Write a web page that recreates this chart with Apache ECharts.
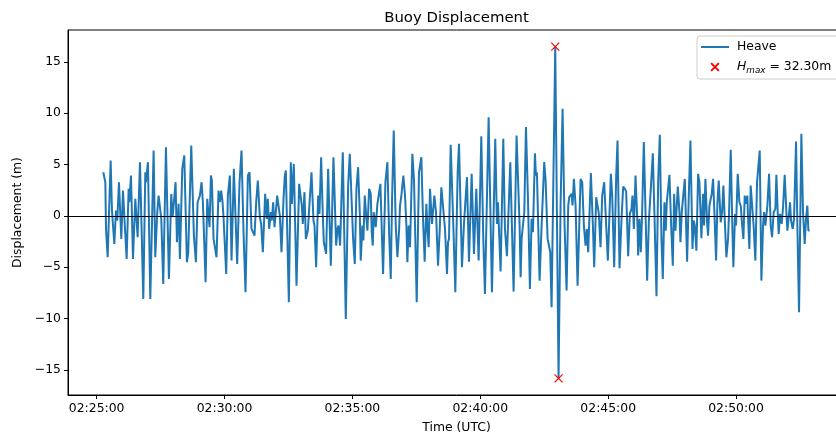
<!DOCTYPE html>
<html><head><meta charset="utf-8">
<script src="https://cdn.jsdelivr.net/npm/echarts@6/dist/echarts.min.js"></script>
<style>html,body{margin:0;padding:0;background:#fff;overflow:hidden;width:836px;height:439px}#c{width:870px;height:439px}</style>
</head><body><div id="c"></div>
<script>
// ---- data ----
const chartTitle = 'Buoy Displacement';
const xName = 'Time (UTC)';
const yName = 'Displacement (m)';
const seriesName = 'Heave';
const startClock = '02:25:00';           // time origin of timeSec
// seconds after 02:25:00
const timeSec = [
15.6,20.3,21.9,25.8,32.8,35.9,41.4,45.3,48.4,52.3,57.8,61.7,70.3,75.0,76.6,80.5,85.2,90.6,96.1,101.6,109.4,114.1,115.6,120.3,125.8,133.6,137.5,142.2,
145.3,149.2,151.6,156.2,162.5,169.5,175.0,178.1,181.2,185.1,188.3,192.2,195.3,200.8,205.5,211.7,214.8,217.2,221.9,228.1,232.8,236.7,239.8,242.2,246.1,249.2,251.6,255.5,259.4,262.5,264.8,268.0,270.3,274.2,275.8,281.2,
285.9,289.0,292.2,295.3,297.6,303.9,307.8,312.5,316.4,321.8,326.5,329.6,335.1,339.8,344.5,349.2,354.7,358.6,363.2,366.4,370.3,374.2,378.1,382.8,385.9,389.8,395.3,399.2,401.5,404.7,408.6,410.9,414.0,417.2,420.3,423.4,
426.6,429.7,433.6,438.3,441.4,443.8,446.1,450.8,455.5,457.9,460.2,462.5,468.8,475.0,478.2,481.3,483.6,487.5,490.7,493.0,495.4,498.5,504.0,508.6,511.0,514.9,519.6,522.7,526.6,530.5,532.9,535.2,538.3,543.0,549.3,555.5,561.8,564.9,
567.2,571.1,577.4,584.4,589.9,593.8,599.2,601.6,605.5,609.4,613.3,617.2,619.5,623.4,625.8,628.9,632.8,635.2,639.1,643.0,645.3,647.7,650.0,652.4,654.7,658.6,661.0,665.6,671.9,677.4,682.0,686.0,689.9,693.0,696.9,701.6,705.5,
709.4,711.7,714.8,719.5,723.4,726.6,728.9,732.0,735.1,740.6,744.5,750.8,756.2,761.7,765.6,769.5,773.4,775.8,778.9,782.0,786.7,792.2,796.1,800.8,804.7,808.6,812.5,817.2,821.9,824.2,826.6,830.5,836.7,841.4,846.9,
850.0,857.0,861.7,864.8,868.7,873.4,879.7,885.1,890.6,896.1,902.3,907.0,910.9,919.5,927.3,935.1,939.0,941.4,943.7,947.6,953.9,957.8,962.5,970.3,978.1,985.1,
992.2,994.6,996.9,1000.0,1003.2,1007.1,1011.8,1016.4,1020.3,1023.5,1028.2,1030.5,1032.8,1039.1,1043.8,1050.0,1053.2,1057.9,1061.0,1064.1,1067.2,1075.8,1083.6,1088.3,1093.0,1097.7,1102.4,1106.3,1108.6,1111.8,1114.1,1116.4,1119.6,1123.5,1128.2,
1135.2,1139.1,1143.0,1146.9,1150.0,1153.1,1159.4,1164.1,1167.2,1171.9,1175.0,1178.1,1182.0,1186.0,1190.6,1195.3,1199.2,1206.3,1209.4,1214.1,1218.8,1221.9,1226.6,1231.3,1235.2,1239.1,1242.2,1246.9,1250.8,1254.7,1257.0,1260.2,1264.1,1268.8,
1270.3,1273.4,1276.6,1279.7,1283.6,1288.3,1291.4,1295.3,1297.6,1300.0,1304.7,1308.6,1313.3,1317.2,1321.1,1325.0,1328.1,1332.0,1335.1,1337.5,1340.6,1343.7,1347.7,1351.6,1354.7,1357.8,1363.3,1367.2,1369.5,1372.6,1375.8,1379.7,1385.2,1389.1,1393.0,1397.7,1400.8,1403.1,1407.0,
1410.9,1414.0,1418.7,1422.6,1425.0,1428.1,1432.0,1434.3,1437.5,1439.8,1442.9,1446.1,1449.2,1453.1,1456.2,1459.3,1464.0,1467.2,1470.3,1474.2,1477.3,1481.2,1483.6,1487.5,1491.4,1493.7,1497.6,1500.0,1503.9,1507.8,1510.9,1514.0,1517.2,1520.3,1523.4,1526.5,1528.1,1531.2,1534.3,1537.5,1541.4,1545.3,1549.2,
1555.5,1559.4,1563.3,1565.7,1568.8,1573.5,1577.4,1581.3,1584.4,1588.3,1592.2,1594.6,1597.7,1600.0,1603.2,1607.1,1610.2,1614.1,1618.0,1620.4,1623.5,1626.6,1629.0,1632.9,1636.0,1640.7,1643.8,1647.7,1653.2,1657.1,1661.0,1664.1,1667.2,1669.6,1672.7
];
// heave displacement in metres
const heave = [
4.25,3.28,-1.27,-4.03,5.39,0.52,-2.73,0.52,-0.45,3.28,-2.24,2.47,-4.19,2.63,1.33,3.93,-4.19,1.66,-2.08,5.23,-8.08,4.25,3.28,5.23,-8.08,6.36,-4.03,0.36,
1.98,1.98,-0.29,-6.62,6.69,-6.14,2.14,-0.13,1.33,3.28,-2.56,1.17,-4.19,4.58,5.88,-4.51,-3.54,-3.70,6.85,-1.92,-4.51,1.33,1.49,1.98,3.28,1.33,1.33,-6.46,1.66,1.49,-1.10,3.93,3.44,-2.24,-2.08,-4.03,
2.47,1.33,2.47,1.33,-0.13,-5.65,1.98,3.93,-4.35,4.58,-0.94,-4.68,3.28,6.36,-1.59,-7.44,3.93,4.25,-1.27,-1.27,-1.92,1.33,3.44,-0.13,-0.78,-3.54,2.14,-0.29,1.66,-1.27,0.36,-0.45,1.33,-1.10,0.36,1.98,
2.14,0.03,-3.54,1.66,3.93,4.42,4.25,-8.41,5.23,1.17,1.17,5.06,-6.79,3.12,1.98,1.01,-0.78,2.31,-2.24,-2.40,-1.43,0.68,4.25,-0.45,-0.94,-5.00,1.98,0.19,5.71,0.03,-2.56,-2.56,-3.70,4.58,-4.84,5.71,-2.89,-1.27,
-0.94,-2.89,6.20,-10.03,2.95,6.04,0.36,-2.24,-4.68,2.63,4.74,0.36,-4.35,-0.94,-2.40,1.98,-0.29,-1.43,2.63,2.14,-1.59,-2.89,0.36,0.19,-1.10,1.17,1.82,3.12,-5.65,3.28,5.23,-1.59,-6.14,1.66,8.31,-0.94,-4.03,
-1.43,1.01,1.98,3.93,1.98,-0.94,-4.51,-0.94,-3.05,6.04,3.44,-8.41,4.25,5.71,-0.29,-4.45,1.17,-1.10,-3.05,2.63,-0.78,1.98,0.36,-4.84,-1.43,2.79,2.95,-1.27,-5.65,-2.56,-2.24,6.92,-0.94,-7.44,4.25,
7.01,-5.00,-0.78,-0.62,3.77,-4.45,4.09,-3.70,2.63,-4.35,7.76,-2.24,-7.60,9.61,-7.44,7.50,-0.78,1.33,1.17,-5.42,7.50,-1.27,-3.93,5.23,-7.37,7.82,
-0.94,-5.97,-2.24,-2.40,0.36,8.64,1.66,-7.11,-0.29,-1.59,6.10,3.93,4.25,-6.30,-0.94,5.23,3.44,-2.24,-2.40,-3.54,-8.90,16.48,-15.82,1.01,10.42,-0.94,-7.27,1.01,1.82,1.98,2.14,1.01,3.60,1.01,-6.79,
3.60,3.28,-0.94,-2.89,-1.27,-3.54,4.16,-0.94,-5.00,1.82,1.66,0.19,-3.05,1.98,3.28,-0.94,-4.35,4.09,1.98,-5.00,3.93,7.34,-5.10,-0.29,2.86,2.63,2.37,-3.93,0.19,0.68,1.98,-1.27,3.93,-0.94,
-3.86,-0.29,-3.54,0.36,7.18,-0.94,-6.30,-0.62,-0.45,2.63,6.10,0.03,-7.82,3.28,7.89,-2.24,-6.14,1.33,-1.43,1.33,1.17,3.99,-0.94,-4.84,2.14,-1.43,2.86,0.36,-2.56,0.36,0.36,3.60,-4.45,1.98,7.34,-3.21,-0.45,-0.94,-3.38,
4.09,3.28,-2.18,2.14,-0.94,3.60,-0.62,-1.92,1.01,1.17,2.14,3.60,0.36,-4.35,1.17,3.44,-0.62,0.36,2.95,-1.10,-4.03,-2.24,0.36,6.43,-1.27,-5.00,0.19,-0.94,4.09,1.33,1.01,-0.78,-2.24,1.98,1.17,1.98,-0.13,-3.21,2.95,2.95,-1.10,-4.35,3.28,
6.36,-6.30,-0.94,0.36,-0.94,1.01,4.09,-0.94,-2.08,0.36,0.68,3.99,0.36,-1.75,0.19,-0.78,0.84,3.99,0.36,-1.43,-0.13,1.33,-0.45,-1.27,-0.29,7.24,-0.94,-9.38,7.99,0.36,-2.73,-0.29,1.01,-1.43,-1.43
];
const xTickSec = [0, 300, 600, 900, 1200, 1500];
const yTicks = [-15, -10, -5, 0, 5, 10, 15];

// ---- build ----
if (timeSec.length !== heave.length) console.error('length mismatch', timeSec.length, heave.length);
const n = Math.min(timeSec.length, heave.length);
const pts = [];
for (let i = 0; i < n; i++) pts.push([timeSec[i], heave[i]]);
let iMax = 0, iMin = 0;
for (let i = 0; i < n; i++) { if (heave[i] > heave[iMax]) iMax = i; if (heave[i] < heave[iMin]) iMin = i; }
const hmax = (heave[iMax] - heave[iMin]).toFixed(2);
const extremes = [[timeSec[iMax], heave[iMax]], [timeSec[iMin], heave[iMin]]];
const tMin = Math.min(...timeSec), tMax = Math.max(...timeSec);
const vMin = heave[iMin], vMax = heave[iMax];
const xPad = 0.05 * (tMax - tMin), yPad = 0.05 * (vMax - vMin);

const base = startClock.split(':').map(Number);
const baseSec = base[0] * 3600 + base[1] * 60 + base[2];
const p2 = v => String(v).padStart(2, '0');
function clock(s) {
  const t = Math.round(baseSec + s);
  return p2(Math.floor(t / 3600)) + ':' + p2(Math.floor(t % 3600 / 60)) + ':' + p2(t % 60);
}
const FONT = 'DejaVu Sans';
const FS = 12.4;
const xPath = 'path://M0,0L10,10M10,0L0,10';
const xPathLegend = 'path://M-4,-4M14,14M0,0L10,10M10,0L0,10';
const linePathLegend = 'path://M0,-7M28,7M0,-1L28,-1L28,1L0,1Z';

const chart = echarts.init(document.getElementById('c'), null, { renderer: 'canvas' });
chart.setOption({
  animation: false,
  backgroundColor: '#ffffff',
  textStyle: { fontFamily: FONT },
  title: {
    text: chartTitle, left: 456.5, top: 11, padding: 0, textAlign: 'center',
    textStyle: { fontFamily: FONT, fontSize: 14.9, fontWeight: 'normal', color: '#000' }
  },
  grid: { left: 68, top: 30, width: 777, height: 366, show: true, borderColor: '#000', borderWidth: 1, containLabel: false },
  legend: {
    orient: 'vertical', left: 697, top: 36,
    padding: [4, 8, 4, 4], itemGap: 5, itemWidth: 28, itemHeight: 14,
    backgroundColor: 'rgba(255,255,255,0.8)', borderColor: '#cccccc', borderWidth: 1, borderRadius: 3,
    textStyle: {
      fontFamily: FONT, fontSize: FS, color: '#000', padding: [0, 0, 0, 3],
      rich: {
        it: { fontFamily: FONT, fontSize: FS, fontStyle: 'italic', color: '#000' },
        sub: { fontFamily: FONT, fontSize: 8.8, fontStyle: 'italic', color: '#000', padding: [7, 0, 0, 0] },
        n: { fontFamily: FONT, fontSize: FS, color: '#000' }
      }
    },
    formatter: name => name === 'Hmax' ? '{it|H}{sub|max}{n| = ' + hmax + 'm}' : name,
    data: [
      { name: seriesName, icon: linePathLegend, itemStyle: { color: '#1f77b4', borderWidth: 0 } },
      { name: 'Hmax', icon: xPathLegend }
    ]
  },
  xAxis: {
    type: 'value', min: tMin - xPad, max: tMax + xPad,
    name: xName, nameLocation: 'middle', nameGap: 27,
    nameTextStyle: { fontFamily: FONT, fontSize: FS, color: '#000' },
    axisLine: { show: true, onZero: false, lineStyle: { color: '#000', width: 1 } },
    axisTick: { show: true, length: 4, customValues: xTickSec, lineStyle: { color: '#000', width: 1 } },
    axisLabel: { customValues: xTickSec, margin: 8, color: '#000', fontFamily: FONT, fontSize: FS, formatter: v => clock(v) },
    splitLine: { show: false }
  },
  yAxis: {
    type: 'value', min: vMin - yPad, max: vMax + yPad,
    name: yName, nameLocation: 'middle', nameGap: 38, nameRotate: 90,
    nameTextStyle: { fontFamily: FONT, fontSize: FS, color: '#000' },
    axisLine: { show: true, onZero: false, lineStyle: { color: '#000', width: 1 } },
    axisTick: { show: true, length: 4, customValues: yTicks, lineStyle: { color: '#000', width: 1 } },
    axisLabel: { customValues: yTicks, margin: 7, color: '#000', fontFamily: FONT, fontSize: FS,
      formatter: v => String(v).replace('-', '\u2212') },
    splitLine: { show: false }
  },
  series: [
    {
      name: seriesName, type: 'line', data: pts, symbol: 'none', showSymbol: false,
      lineStyle: { color: '#1f77b4', width: 2 }, itemStyle: { color: '#1f77b4' }, z: 2
    },
    {
      name: 'Hmax', type: 'scatter', data: extremes, symbol: xPath, symbolSize: 8, z: 4,
      itemStyle: { color: 'rgba(0,0,0,0)', borderColor: '#ff0000', borderWidth: 1.2, opacity: 1 },
      markLine: {
        silent: true, symbol: 'none', label: { show: false },
        lineStyle: { color: '#000', width: 1.2, type: 'solid' },
        emphasis: { disabled: true },
        data: [{ yAxis: 0 }]
      }
    }
  ]
});
</script>
</body></html>
